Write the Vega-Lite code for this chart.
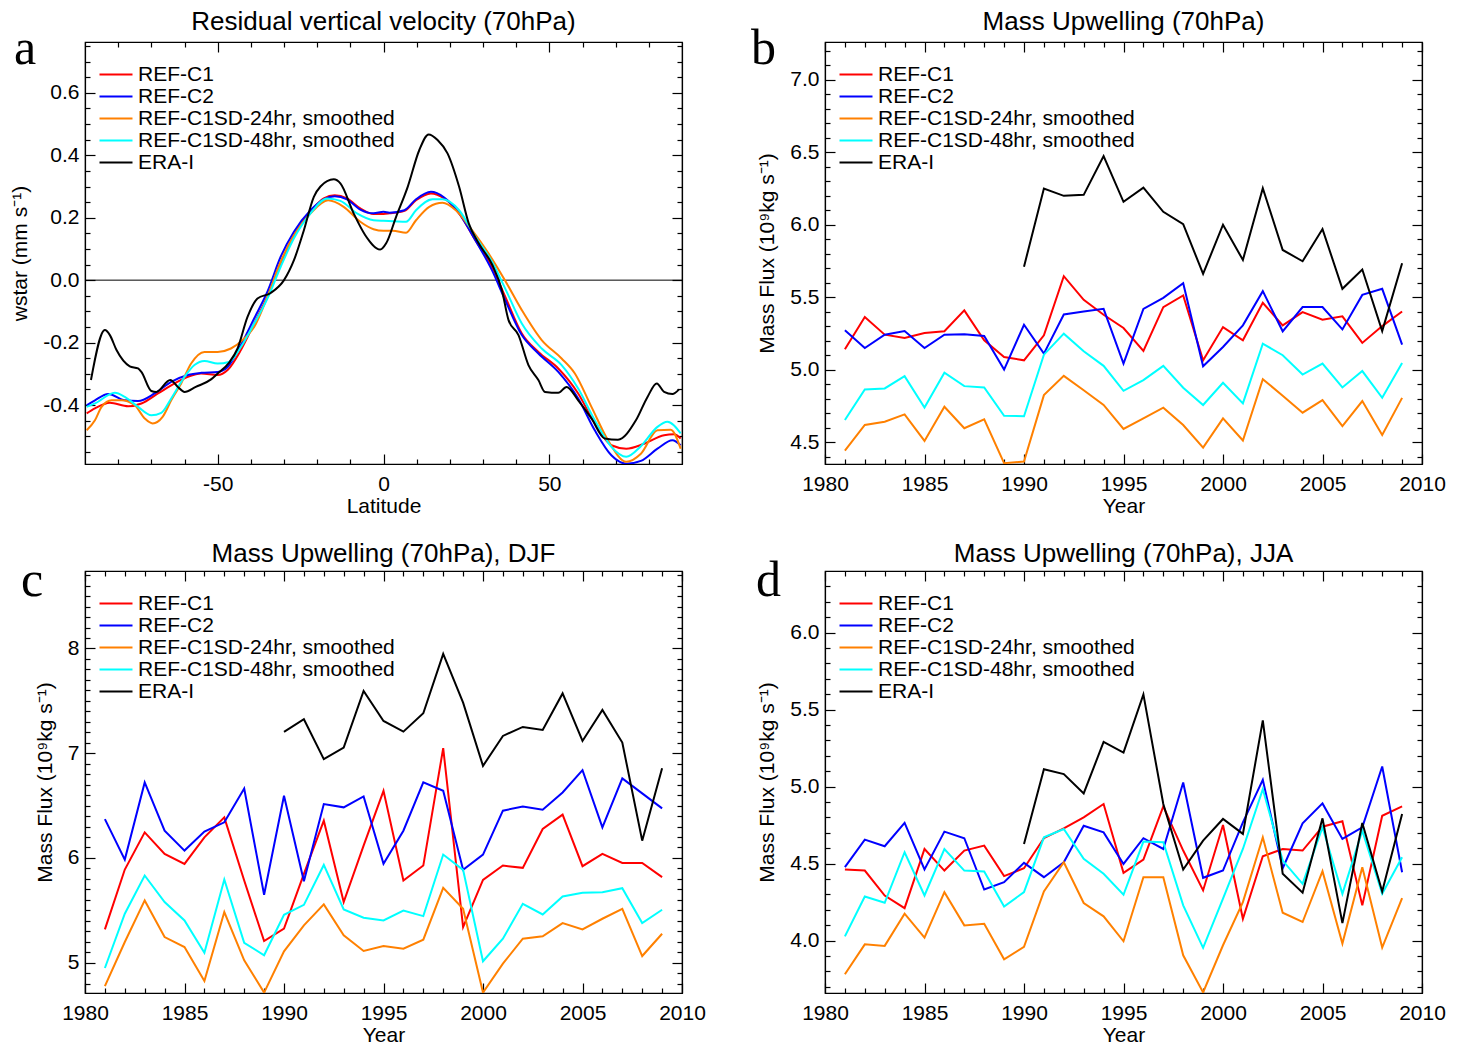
{
"$schema": "https://vega.github.io/schema/vega-lite/v6.json",
"padding": {"left": 9, "top": 8, "right": 10, "bottom": 5},
"autosize": {"type": "pad"},
"background": "#ffffff",
"datasets": {
"a": [
{"series":"REF-C1","lat":-89.5,"value":-0.427},{"series":"REF-C1","lat":-87,"value":-0.411},{"series":"REF-C1","lat":-82.5,"value":-0.393},{"series":"REF-C1","lat":-77,"value":-0.404},{"series":"REF-C1","lat":-73,"value":-0.395},{"series":"REF-C1","lat":-68,"value":-0.363},{"series":"REF-C1","lat":-63,"value":-0.331},{"series":"REF-C1","lat":-59,"value":-0.31},{"series":"REF-C1","lat":-55,"value":-0.299},{"series":"REF-C1","lat":-50,"value":-0.304},{"series":"REF-C1","lat":-47,"value":-0.288},{"series":"REF-C1","lat":-43,"value":-0.224},{"series":"REF-C1","lat":-39,"value":-0.139},{"series":"REF-C1","lat":-35,"value":-0.053},{"series":"REF-C1","lat":-31,"value":0.053},{"series":"REF-C1","lat":-27,"value":0.144},{"series":"REF-C1","lat":-22,"value":0.219},{"series":"REF-C1","lat":-18,"value":0.262},{"series":"REF-C1","lat":-14.7,"value":0.272},{"series":"REF-C1","lat":-11,"value":0.262},{"series":"REF-C1","lat":-7,"value":0.23},{"series":"REF-C1","lat":-3,"value":0.212},{"series":"REF-C1","lat":0,"value":0.212},{"series":"REF-C1","lat":1.8,"value":0.214},{"series":"REF-C1","lat":6.3,"value":0.222},{"series":"REF-C1","lat":9.8,"value":0.256},{"series":"REF-C1","lat":14.3,"value":0.278},{"series":"REF-C1","lat":18.3,"value":0.262},{"series":"REF-C1","lat":22.8,"value":0.214},{"series":"REF-C1","lat":27.7,"value":0.128},{"series":"REF-C1","lat":32.7,"value":0.043},{"series":"REF-C1","lat":36.7,"value":-0.053},{"series":"REF-C1","lat":41.7,"value":-0.171},{"series":"REF-C1","lat":46.7,"value":-0.23},{"series":"REF-C1","lat":52.7,"value":-0.283},{"series":"REF-C1","lat":58.7,"value":-0.363},{"series":"REF-C1","lat":63.7,"value":-0.459},{"series":"REF-C1","lat":68.7,"value":-0.529},{"series":"REF-C1","lat":73.2,"value":-0.54},{"series":"REF-C1","lat":78.6,"value":-0.524},{"series":"REF-C1","lat":84.6,"value":-0.497},{"series":"REF-C1","lat":87.6,"value":-0.494},{"series":"REF-C1","lat":89.6,"value":-0.507},
{"series":"REF-C2","lat":-89.5,"value":-0.401},{"series":"REF-C2","lat":-87,"value":-0.385},{"series":"REF-C2","lat":-83,"value":-0.365},{"series":"REF-C2","lat":-78,"value":-0.385},{"series":"REF-C2","lat":-74,"value":-0.387},{"series":"REF-C2","lat":-69,"value":-0.363},{"series":"REF-C2","lat":-64,"value":-0.326},{"series":"REF-C2","lat":-59,"value":-0.304},{"series":"REF-C2","lat":-55,"value":-0.297},{"series":"REF-C2","lat":-50,"value":-0.294},{"series":"REF-C2","lat":-47,"value":-0.278},{"series":"REF-C2","lat":-43,"value":-0.208},{"series":"REF-C2","lat":-39,"value":-0.123},{"series":"REF-C2","lat":-35,"value":-0.037},{"series":"REF-C2","lat":-31,"value":0.075},{"series":"REF-C2","lat":-27,"value":0.155},{"series":"REF-C2","lat":-22,"value":0.224},{"series":"REF-C2","lat":-18,"value":0.259},{"series":"REF-C2","lat":-14.7,"value":0.269},{"series":"REF-C2","lat":-11,"value":0.259},{"series":"REF-C2","lat":-7,"value":0.226},{"series":"REF-C2","lat":-3,"value":0.214},{"series":"REF-C2","lat":0,"value":0.219},{"series":"REF-C2","lat":1.8,"value":0.216},{"series":"REF-C2","lat":6.3,"value":0.224},{"series":"REF-C2","lat":9.8,"value":0.259},{"series":"REF-C2","lat":14.3,"value":0.283},{"series":"REF-C2","lat":18.3,"value":0.265},{"series":"REF-C2","lat":22.8,"value":0.214},{"series":"REF-C2","lat":27.7,"value":0.128},{"series":"REF-C2","lat":32.7,"value":0.032},{"series":"REF-C2","lat":36.7,"value":-0.064},{"series":"REF-C2","lat":41.7,"value":-0.176},{"series":"REF-C2","lat":46.7,"value":-0.235},{"series":"REF-C2","lat":52.7,"value":-0.294},{"series":"REF-C2","lat":58.7,"value":-0.379},{"series":"REF-C2","lat":63.7,"value":-0.481},{"series":"REF-C2","lat":68.7,"value":-0.561},{"series":"REF-C2","lat":73.2,"value":-0.588},{"series":"REF-C2","lat":77.6,"value":-0.579},{"series":"REF-C2","lat":82.6,"value":-0.54},{"series":"REF-C2","lat":87.1,"value":-0.513},{"series":"REF-C2","lat":89.6,"value":-0.529},
{"series":"REF-C1SD-24hr, smoothed","lat":-89.5,"value":-0.481},{"series":"REF-C1SD-24hr, smoothed","lat":-87,"value":-0.449},{"series":"REF-C1SD-24hr, smoothed","lat":-85,"value":-0.406},{"series":"REF-C1SD-24hr, smoothed","lat":-82,"value":-0.385},{"series":"REF-C1SD-24hr, smoothed","lat":-79,"value":-0.385},{"series":"REF-C1SD-24hr, smoothed","lat":-75,"value":-0.401},{"series":"REF-C1SD-24hr, smoothed","lat":-72,"value":-0.443},{"series":"REF-C1SD-24hr, smoothed","lat":-69.6,"value":-0.459},{"series":"REF-C1SD-24hr, smoothed","lat":-66.6,"value":-0.438},{"series":"REF-C1SD-24hr, smoothed","lat":-64,"value":-0.385},{"series":"REF-C1SD-24hr, smoothed","lat":-61,"value":-0.331},{"series":"REF-C1SD-24hr, smoothed","lat":-58,"value":-0.267},{"series":"REF-C1SD-24hr, smoothed","lat":-54,"value":-0.23},{"series":"REF-C1SD-24hr, smoothed","lat":-50,"value":-0.23},{"series":"REF-C1SD-24hr, smoothed","lat":-46,"value":-0.219},{"series":"REF-C1SD-24hr, smoothed","lat":-42,"value":-0.187},{"series":"REF-C1SD-24hr, smoothed","lat":-39,"value":-0.15},{"series":"REF-C1SD-24hr, smoothed","lat":-35,"value":-0.053},{"series":"REF-C1SD-24hr, smoothed","lat":-31,"value":0.059},{"series":"REF-C1SD-24hr, smoothed","lat":-27,"value":0.144},{"series":"REF-C1SD-24hr, smoothed","lat":-22,"value":0.214},{"series":"REF-C1SD-24hr, smoothed","lat":-16.7,"value":0.256},{"series":"REF-C1SD-24hr, smoothed","lat":-12,"value":0.235},{"series":"REF-C1SD-24hr, smoothed","lat":-7,"value":0.187},{"series":"REF-C1SD-24hr, smoothed","lat":-3,"value":0.163},{"series":"REF-C1SD-24hr, smoothed","lat":0,"value":0.158},{"series":"REF-C1SD-24hr, smoothed","lat":2.8,"value":0.158},{"series":"REF-C1SD-24hr, smoothed","lat":6.8,"value":0.152},{"series":"REF-C1SD-24hr, smoothed","lat":9.8,"value":0.192},{"series":"REF-C1SD-24hr, smoothed","lat":13.8,"value":0.235},{"series":"REF-C1SD-24hr, smoothed","lat":17.8,"value":0.248},{"series":"REF-C1SD-24hr, smoothed","lat":21.8,"value":0.224},{"series":"REF-C1SD-24hr, smoothed","lat":26.7,"value":0.16},{"series":"REF-C1SD-24hr, smoothed","lat":31.7,"value":0.085},{"series":"REF-C1SD-24hr, smoothed","lat":36.7,"value":-0.002},{"series":"REF-C1SD-24hr, smoothed","lat":41.7,"value":-0.096},{"series":"REF-C1SD-24hr, smoothed","lat":47.7,"value":-0.192},{"series":"REF-C1SD-24hr, smoothed","lat":53.7,"value":-0.251},{"series":"REF-C1SD-24hr, smoothed","lat":57.7,"value":-0.299},{"series":"REF-C1SD-24hr, smoothed","lat":62.7,"value":-0.406},{"series":"REF-C1SD-24hr, smoothed","lat":67.7,"value":-0.513},{"series":"REF-C1SD-24hr, smoothed","lat":73.2,"value":-0.582},{"series":"REF-C1SD-24hr, smoothed","lat":77.6,"value":-0.556},{"series":"REF-C1SD-24hr, smoothed","lat":82.6,"value":-0.481},{"series":"REF-C1SD-24hr, smoothed","lat":86.6,"value":-0.479},{"series":"REF-C1SD-24hr, smoothed","lat":89.6,"value":-0.54},
{"series":"REF-C1SD-48hr, smoothed","lat":-89.5,"value":-0.406},{"series":"REF-C1SD-48hr, smoothed","lat":-87,"value":-0.395},{"series":"REF-C1SD-48hr, smoothed","lat":-81,"value":-0.361},{"series":"REF-C1SD-48hr, smoothed","lat":-78,"value":-0.374},{"series":"REF-C1SD-48hr, smoothed","lat":-74,"value":-0.406},{"series":"REF-C1SD-48hr, smoothed","lat":-70,"value":-0.433},{"series":"REF-C1SD-48hr, smoothed","lat":-67,"value":-0.425},{"series":"REF-C1SD-48hr, smoothed","lat":-64,"value":-0.379},{"series":"REF-C1SD-48hr, smoothed","lat":-60,"value":-0.31},{"series":"REF-C1SD-48hr, smoothed","lat":-57,"value":-0.272},{"series":"REF-C1SD-48hr, smoothed","lat":-54,"value":-0.259},{"series":"REF-C1SD-48hr, smoothed","lat":-50,"value":-0.267},{"series":"REF-C1SD-48hr, smoothed","lat":-46.6,"value":-0.262},{"series":"REF-C1SD-48hr, smoothed","lat":-43,"value":-0.214},{"series":"REF-C1SD-48hr, smoothed","lat":-39,"value":-0.139},{"series":"REF-C1SD-48hr, smoothed","lat":-35,"value":-0.059},{"series":"REF-C1SD-48hr, smoothed","lat":-31,"value":0.043},{"series":"REF-C1SD-48hr, smoothed","lat":-27,"value":0.134},{"series":"REF-C1SD-48hr, smoothed","lat":-22,"value":0.214},{"series":"REF-C1SD-48hr, smoothed","lat":-17,"value":0.262},{"series":"REF-C1SD-48hr, smoothed","lat":-13,"value":0.254},{"series":"REF-C1SD-48hr, smoothed","lat":-8,"value":0.214},{"series":"REF-C1SD-48hr, smoothed","lat":-3,"value":0.192},{"series":"REF-C1SD-48hr, smoothed","lat":0,"value":0.19},{"series":"REF-C1SD-48hr, smoothed","lat":2.8,"value":0.189},{"series":"REF-C1SD-48hr, smoothed","lat":6.8,"value":0.187},{"series":"REF-C1SD-48hr, smoothed","lat":9.8,"value":0.224},{"series":"REF-C1SD-48hr, smoothed","lat":14.8,"value":0.259},{"series":"REF-C1SD-48hr, smoothed","lat":17.8,"value":0.259},{"series":"REF-C1SD-48hr, smoothed","lat":22.8,"value":0.224},{"series":"REF-C1SD-48hr, smoothed","lat":27.7,"value":0.139},{"series":"REF-C1SD-48hr, smoothed","lat":32.7,"value":0.059},{"series":"REF-C1SD-48hr, smoothed","lat":36.7,"value":-0.027},{"series":"REF-C1SD-48hr, smoothed","lat":41.7,"value":-0.139},{"series":"REF-C1SD-48hr, smoothed","lat":47.7,"value":-0.219},{"series":"REF-C1SD-48hr, smoothed","lat":53.7,"value":-0.272},{"series":"REF-C1SD-48hr, smoothed","lat":58.7,"value":-0.347},{"series":"REF-C1SD-48hr, smoothed","lat":63.7,"value":-0.449},{"series":"REF-C1SD-48hr, smoothed","lat":68.7,"value":-0.534},{"series":"REF-C1SD-48hr, smoothed","lat":73.2,"value":-0.566},{"series":"REF-C1SD-48hr, smoothed","lat":77.6,"value":-0.532},{"series":"REF-C1SD-48hr, smoothed","lat":82.6,"value":-0.47},{"series":"REF-C1SD-48hr, smoothed","lat":85.6,"value":-0.454},{"series":"REF-C1SD-48hr, smoothed","lat":89.6,"value":-0.491},
{"series":"ERA-I","lat":-88.2,"value":-0.32},{"series":"ERA-I","lat":-84,"value":-0.16},{"series":"ERA-I","lat":-82.5,"value":-0.176},{"series":"ERA-I","lat":-80.5,"value":-0.224},{"series":"ERA-I","lat":-76.5,"value":-0.276},{"series":"ERA-I","lat":-74,"value":-0.283},{"series":"ERA-I","lat":-73,"value":-0.294},{"series":"ERA-I","lat":-70,"value":-0.355},{"series":"ERA-I","lat":-68.5,"value":-0.358},{"series":"ERA-I","lat":-64.3,"value":-0.32},{"series":"ERA-I","lat":-62,"value":-0.342},{"series":"ERA-I","lat":-60,"value":-0.358},{"series":"ERA-I","lat":-56.6,"value":-0.342},{"series":"ERA-I","lat":-52,"value":-0.318},{"series":"ERA-I","lat":-50,"value":-0.299},{"series":"ERA-I","lat":-46.6,"value":-0.265},{"series":"ERA-I","lat":-44,"value":-0.219},{"series":"ERA-I","lat":-41,"value":-0.118},{"series":"ERA-I","lat":-38,"value":-0.059},{"series":"ERA-I","lat":-34,"value":-0.041},{"series":"ERA-I","lat":-30,"value":0.0},{"series":"ERA-I","lat":-27,"value":0.064},{"series":"ERA-I","lat":-24,"value":0.16},{"series":"ERA-I","lat":-21,"value":0.267},{"series":"ERA-I","lat":-19,"value":0.3},{"series":"ERA-I","lat":-15,"value":0.323},{"series":"ERA-I","lat":-13,"value":0.31},{"series":"ERA-I","lat":-9,"value":0.214},{"series":"ERA-I","lat":-5.5,"value":0.144},{"series":"ERA-I","lat":-1,"value":0.098},{"series":"ERA-I","lat":0.8,"value":0.118},{"series":"ERA-I","lat":3.8,"value":0.203},{"series":"ERA-I","lat":7.3,"value":0.299},{"series":"ERA-I","lat":10.8,"value":0.417},{"series":"ERA-I","lat":13.6,"value":0.467},{"series":"ERA-I","lat":16.3,"value":0.449},{"series":"ERA-I","lat":19.3,"value":0.406},{"series":"ERA-I","lat":22.8,"value":0.299},{"series":"ERA-I","lat":25.7,"value":0.182},{"series":"ERA-I","lat":28.7,"value":0.118},{"series":"ERA-I","lat":32.7,"value":0.051},{"series":"ERA-I","lat":35.7,"value":-0.032},{"series":"ERA-I","lat":37.7,"value":-0.128},{"series":"ERA-I","lat":40.7,"value":-0.176},{"series":"ERA-I","lat":43.7,"value":-0.272},{"series":"ERA-I","lat":46.7,"value":-0.32},{"series":"ERA-I","lat":48.7,"value":-0.358},{"series":"ERA-I","lat":52.7,"value":-0.361},{"series":"ERA-I","lat":55.2,"value":-0.342},{"series":"ERA-I","lat":58.7,"value":-0.385},{"series":"ERA-I","lat":62.7,"value":-0.443},{"series":"ERA-I","lat":66.7,"value":-0.507},{"series":"ERA-I","lat":70.7,"value":-0.511},{"series":"ERA-I","lat":76.1,"value":-0.449},{"series":"ERA-I","lat":79.6,"value":-0.374},{"series":"ERA-I","lat":82.4,"value":-0.331},{"series":"ERA-I","lat":84.6,"value":-0.358},{"series":"ERA-I","lat":87.1,"value":-0.365},{"series":"ERA-I","lat":89.1,"value":-0.35}
],
"b": [
{"series":"REF-C1","year":1981,"value":5.141},{"series":"REF-C1","year":1982,"value":5.363},{"series":"REF-C1","year":1983,"value":5.242},{"series":"REF-C1","year":1984,"value":5.219},{"series":"REF-C1","year":1985,"value":5.253},{"series":"REF-C1","year":1986,"value":5.265},{"series":"REF-C1","year":1987,"value":5.409},{"series":"REF-C1","year":1988,"value":5.203},{"series":"REF-C1","year":1989,"value":5.088},{"series":"REF-C1","year":1990,"value":5.065},{"series":"REF-C1","year":1991,"value":5.237},{"series":"REF-C1","year":1992,"value":5.645},{"series":"REF-C1","year":1993,"value":5.482},{"series":"REF-C1","year":1994,"value":5.379},{"series":"REF-C1","year":1995,"value":5.288},{"series":"REF-C1","year":1996,"value":5.13},{"series":"REF-C1","year":1997,"value":5.432},{"series":"REF-C1","year":1998,"value":5.512},{"series":"REF-C1","year":1999,"value":5.065},{"series":"REF-C1","year":2000,"value":5.294},{"series":"REF-C1","year":2001,"value":5.203},{"series":"REF-C1","year":2002,"value":5.462},{"series":"REF-C1","year":2003,"value":5.306},{"series":"REF-C1","year":2004,"value":5.397},{"series":"REF-C1","year":2005,"value":5.345},{"series":"REF-C1","year":2006,"value":5.368},{"series":"REF-C1","year":2007,"value":5.185},{"series":"REF-C1","year":2008,"value":5.301},{"series":"REF-C1","year":2009,"value":5.402},
{"series":"REF-C2","year":1981,"value":5.272},{"series":"REF-C2","year":1982,"value":5.15},{"series":"REF-C2","year":1983,"value":5.242},{"series":"REF-C2","year":1984,"value":5.267},{"series":"REF-C2","year":1985,"value":5.15},{"series":"REF-C2","year":1986,"value":5.242},{"series":"REF-C2","year":1987,"value":5.244},{"series":"REF-C2","year":1988,"value":5.233},{"series":"REF-C2","year":1989,"value":5.001},{"series":"REF-C2","year":1990,"value":5.31},{"series":"REF-C2","year":1991,"value":5.111},{"series":"REF-C2","year":1992,"value":5.381},{"series":"REF-C2","year":1993,"value":5.402},{"series":"REF-C2","year":1994,"value":5.42},{"series":"REF-C2","year":1995,"value":5.043},{"series":"REF-C2","year":1996,"value":5.42},{"series":"REF-C2","year":1997,"value":5.496},{"series":"REF-C2","year":1998,"value":5.597},{"series":"REF-C2","year":1999,"value":5.024},{"series":"REF-C2","year":2000,"value":5.157},{"series":"REF-C2","year":2001,"value":5.306},{"series":"REF-C2","year":2002,"value":5.542},{"series":"REF-C2","year":2003,"value":5.265},{"series":"REF-C2","year":2004,"value":5.432},{"series":"REF-C2","year":2005,"value":5.432},{"series":"REF-C2","year":2006,"value":5.278},{"series":"REF-C2","year":2007,"value":5.516},{"series":"REF-C2","year":2008,"value":5.558},{"series":"REF-C2","year":2009,"value":5.173},
{"series":"REF-C1SD-24hr, smoothed","year":1981,"value":4.443},{"series":"REF-C1SD-24hr, smoothed","year":1982,"value":4.619},{"series":"REF-C1SD-24hr, smoothed","year":1983,"value":4.642},{"series":"REF-C1SD-24hr, smoothed","year":1984,"value":4.692},{"series":"REF-C1SD-24hr, smoothed","year":1985,"value":4.509},{"series":"REF-C1SD-24hr, smoothed","year":1986,"value":4.745},{"series":"REF-C1SD-24hr, smoothed","year":1987,"value":4.597},{"series":"REF-C1SD-24hr, smoothed","year":1988,"value":4.658},{"series":"REF-C1SD-24hr, smoothed","year":1989,"value":4.356},{"series":"REF-C1SD-24hr, smoothed","year":1990,"value":4.367},{"series":"REF-C1SD-24hr, smoothed","year":1991,"value":4.825},{"series":"REF-C1SD-24hr, smoothed","year":1992,"value":4.958},{"series":"REF-C1SD-24hr, smoothed","year":1993,"value":4.859},{"series":"REF-C1SD-24hr, smoothed","year":1994,"value":4.757},{"series":"REF-C1SD-24hr, smoothed","year":1995,"value":4.592},{"series":"REF-C1SD-24hr, smoothed","year":1996,"value":4.665},{"series":"REF-C1SD-24hr, smoothed","year":1997,"value":4.738},{"series":"REF-C1SD-24hr, smoothed","year":1998,"value":4.619},{"series":"REF-C1SD-24hr, smoothed","year":1999,"value":4.463},{"series":"REF-C1SD-24hr, smoothed","year":2000,"value":4.665},{"series":"REF-C1SD-24hr, smoothed","year":2001,"value":4.512},{"series":"REF-C1SD-24hr, smoothed","year":2002,"value":4.935},{"series":"REF-C1SD-24hr, smoothed","year":2003,"value":4.821},{"series":"REF-C1SD-24hr, smoothed","year":2004,"value":4.704},{"series":"REF-C1SD-24hr, smoothed","year":2005,"value":4.79},{"series":"REF-C1SD-24hr, smoothed","year":2006,"value":4.612},{"series":"REF-C1SD-24hr, smoothed","year":2007,"value":4.784},{"series":"REF-C1SD-24hr, smoothed","year":2008,"value":4.55},{"series":"REF-C1SD-24hr, smoothed","year":2009,"value":4.806},
{"series":"REF-C1SD-48hr, smoothed","year":1981,"value":4.653},{"series":"REF-C1SD-48hr, smoothed","year":1982,"value":4.864},{"series":"REF-C1SD-48hr, smoothed","year":1983,"value":4.871},{"series":"REF-C1SD-48hr, smoothed","year":1984,"value":4.956},{"series":"REF-C1SD-48hr, smoothed","year":1985,"value":4.74},{"series":"REF-C1SD-48hr, smoothed","year":1986,"value":4.979},{"series":"REF-C1SD-48hr, smoothed","year":1987,"value":4.887},{"series":"REF-C1SD-48hr, smoothed","year":1988,"value":4.878},{"series":"REF-C1SD-48hr, smoothed","year":1989,"value":4.683},{"series":"REF-C1SD-48hr, smoothed","year":1990,"value":4.679},{"series":"REF-C1SD-48hr, smoothed","year":1991,"value":5.104},{"series":"REF-C1SD-48hr, smoothed","year":1992,"value":5.249},{"series":"REF-C1SD-48hr, smoothed","year":1993,"value":5.127},{"series":"REF-C1SD-48hr, smoothed","year":1994,"value":5.027},{"series":"REF-C1SD-48hr, smoothed","year":1995,"value":4.855},{"series":"REF-C1SD-48hr, smoothed","year":1996,"value":4.928},{"series":"REF-C1SD-48hr, smoothed","year":1997,"value":5.027},{"series":"REF-C1SD-48hr, smoothed","year":1998,"value":4.876},{"series":"REF-C1SD-48hr, smoothed","year":1999,"value":4.757},{"series":"REF-C1SD-48hr, smoothed","year":2000,"value":4.91},{"series":"REF-C1SD-48hr, smoothed","year":2001,"value":4.768},{"series":"REF-C1SD-48hr, smoothed","year":2002,"value":5.18},{"series":"REF-C1SD-48hr, smoothed","year":2003,"value":5.1},{"series":"REF-C1SD-48hr, smoothed","year":2004,"value":4.967},{"series":"REF-C1SD-48hr, smoothed","year":2005,"value":5.043},{"series":"REF-C1SD-48hr, smoothed","year":2006,"value":4.878},{"series":"REF-C1SD-48hr, smoothed","year":2007,"value":4.991},{"series":"REF-C1SD-48hr, smoothed","year":2008,"value":4.807},{"series":"REF-C1SD-48hr, smoothed","year":2009,"value":5.047},
{"series":"ERA-I","year":1990,"value":5.711},{"series":"ERA-I","year":1991,"value":6.249},{"series":"ERA-I","year":1992,"value":6.199},{"series":"ERA-I","year":1993,"value":6.206},{"series":"ERA-I","year":1994,"value":6.473},{"series":"ERA-I","year":1995,"value":6.158},{"series":"ERA-I","year":1996,"value":6.256},{"series":"ERA-I","year":1997,"value":6.089},{"series":"ERA-I","year":1998,"value":6.004},{"series":"ERA-I","year":1999,"value":5.661},{"series":"ERA-I","year":2000,"value":6.0},{"series":"ERA-I","year":2001,"value":5.757},{"series":"ERA-I","year":2002,"value":6.252},{"series":"ERA-I","year":2003,"value":5.826},{"series":"ERA-I","year":2004,"value":5.748},{"series":"ERA-I","year":2005,"value":5.97},{"series":"ERA-I","year":2006,"value":5.558},{"series":"ERA-I","year":2007,"value":5.691},{"series":"ERA-I","year":2008,"value":5.267},{"series":"ERA-I","year":2009,"value":5.734}
],
"c": [
{"series":"REF-C1","year":1981,"value":5.317},{"series":"REF-C1","year":1982,"value":5.889},{"series":"REF-C1","year":1983,"value":6.244},{"series":"REF-C1","year":1984,"value":6.038},{"series":"REF-C1","year":1985,"value":5.943},{"series":"REF-C1","year":1986,"value":6.197},{"series":"REF-C1","year":1987,"value":6.387},{"series":"REF-C1","year":1988,"value":5.784},{"series":"REF-C1","year":1989,"value":5.206},{"series":"REF-C1","year":1990,"value":5.324},{"series":"REF-C1","year":1991,"value":5.848},{"series":"REF-C1","year":1992,"value":6.356},{"series":"REF-C1","year":1993,"value":5.578},{"series":"REF-C1","year":1994,"value":6.117},{"series":"REF-C1","year":1995,"value":6.641},{"series":"REF-C1","year":1996,"value":5.784},{"series":"REF-C1","year":1997,"value":5.927},{"series":"REF-C1","year":1998,"value":7.048},{"series":"REF-C1","year":1999,"value":5.34},{"series":"REF-C1","year":2000,"value":5.79},{"series":"REF-C1","year":2001,"value":5.927},{"series":"REF-C1","year":2002,"value":5.905},{"series":"REF-C1","year":2003,"value":6.276},{"series":"REF-C1","year":2004,"value":6.413},{"series":"REF-C1","year":2005,"value":5.921},{"series":"REF-C1","year":2006,"value":6.038},{"series":"REF-C1","year":2007,"value":5.952},{"series":"REF-C1","year":2008,"value":5.952},{"series":"REF-C1","year":2009,"value":5.816},
{"series":"REF-C2","year":1981,"value":6.371},{"series":"REF-C2","year":1982,"value":5.984},{"series":"REF-C2","year":1983,"value":6.721},{"series":"REF-C2","year":1984,"value":6.26},{"series":"REF-C2","year":1985,"value":6.07},{"series":"REF-C2","year":1986,"value":6.251},{"series":"REF-C2","year":1987,"value":6.34},{"series":"REF-C2","year":1988,"value":6.663},{"series":"REF-C2","year":1989,"value":5.648},{"series":"REF-C2","year":1990,"value":6.594},{"series":"REF-C2","year":1991,"value":5.778},{"series":"REF-C2","year":1992,"value":6.514},{"series":"REF-C2","year":1993,"value":6.483},{"series":"REF-C2","year":1994,"value":6.587},{"series":"REF-C2","year":1995,"value":5.943},{"series":"REF-C2","year":1996,"value":6.26},{"series":"REF-C2","year":1997,"value":6.721},{"series":"REF-C2","year":1998,"value":6.641},{"series":"REF-C2","year":1999,"value":5.886},{"series":"REF-C2","year":2000,"value":6.032},{"series":"REF-C2","year":2001,"value":6.451},{"series":"REF-C2","year":2002,"value":6.492},{"series":"REF-C2","year":2003,"value":6.46},{"series":"REF-C2","year":2004,"value":6.625},{"series":"REF-C2","year":2005,"value":6.838},{"series":"REF-C2","year":2006,"value":6.292},{"series":"REF-C2","year":2007,"value":6.759},{"series":"REF-C2","year":2008,"value":6.616},{"series":"REF-C2","year":2009,"value":6.473},
{"series":"REF-C1SD-24hr, smoothed","year":1981,"value":4.775},{"series":"REF-C1SD-24hr, smoothed","year":1982,"value":5.197},{"series":"REF-C1SD-24hr, smoothed","year":1983,"value":5.594},{"series":"REF-C1SD-24hr, smoothed","year":1984,"value":5.244},{"series":"REF-C1SD-24hr, smoothed","year":1985,"value":5.149},{"series":"REF-C1SD-24hr, smoothed","year":1986,"value":4.825},{"series":"REF-C1SD-24hr, smoothed","year":1987,"value":5.483},{"series":"REF-C1SD-24hr, smoothed","year":1988,"value":5.022},{"series":"REF-C1SD-24hr, smoothed","year":1989,"value":4.714},{"series":"REF-C1SD-24hr, smoothed","year":1990,"value":5.108},{"series":"REF-C1SD-24hr, smoothed","year":1991,"value":5.356},{"series":"REF-C1SD-24hr, smoothed","year":1992,"value":5.556},{"series":"REF-C1SD-24hr, smoothed","year":1993,"value":5.26},{"series":"REF-C1SD-24hr, smoothed","year":1994,"value":5.111},{"series":"REF-C1SD-24hr, smoothed","year":1995,"value":5.159},{"series":"REF-C1SD-24hr, smoothed","year":1996,"value":5.133},{"series":"REF-C1SD-24hr, smoothed","year":1997,"value":5.219},{"series":"REF-C1SD-24hr, smoothed","year":1998,"value":5.714},{"series":"REF-C1SD-24hr, smoothed","year":1999,"value":5.514},{"series":"REF-C1SD-24hr, smoothed","year":2000,"value":4.714},{"series":"REF-C1SD-24hr, smoothed","year":2001,"value":4.99},{"series":"REF-C1SD-24hr, smoothed","year":2002,"value":5.229},{"series":"REF-C1SD-24hr, smoothed","year":2003,"value":5.251},{"series":"REF-C1SD-24hr, smoothed","year":2004,"value":5.378},{"series":"REF-C1SD-24hr, smoothed","year":2005,"value":5.317},{"series":"REF-C1SD-24hr, smoothed","year":2006,"value":5.419},{"series":"REF-C1SD-24hr, smoothed","year":2007,"value":5.514},{"series":"REF-C1SD-24hr, smoothed","year":2008,"value":5.063},{"series":"REF-C1SD-24hr, smoothed","year":2009,"value":5.276},
{"series":"REF-C1SD-48hr, smoothed","year":1981,"value":4.949},{"series":"REF-C1SD-48hr, smoothed","year":1982,"value":5.467},{"series":"REF-C1SD-48hr, smoothed","year":1983,"value":5.832},{"series":"REF-C1SD-48hr, smoothed","year":1984,"value":5.578},{"series":"REF-C1SD-48hr, smoothed","year":1985,"value":5.403},{"series":"REF-C1SD-48hr, smoothed","year":1986,"value":5.095},{"series":"REF-C1SD-48hr, smoothed","year":1987,"value":5.794},{"series":"REF-C1SD-48hr, smoothed","year":1988,"value":5.19},{"series":"REF-C1SD-48hr, smoothed","year":1989,"value":5.07},{"series":"REF-C1SD-48hr, smoothed","year":1990,"value":5.457},{"series":"REF-C1SD-48hr, smoothed","year":1991,"value":5.552},{"series":"REF-C1SD-48hr, smoothed","year":1992,"value":5.933},{"series":"REF-C1SD-48hr, smoothed","year":1993,"value":5.508},{"series":"REF-C1SD-48hr, smoothed","year":1994,"value":5.429},{"series":"REF-C1SD-48hr, smoothed","year":1995,"value":5.403},{"series":"REF-C1SD-48hr, smoothed","year":1996,"value":5.498},{"series":"REF-C1SD-48hr, smoothed","year":1997,"value":5.444},{"series":"REF-C1SD-48hr, smoothed","year":1998,"value":6.032},{"series":"REF-C1SD-48hr, smoothed","year":1999,"value":5.886},{"series":"REF-C1SD-48hr, smoothed","year":2000,"value":5.013},{"series":"REF-C1SD-48hr, smoothed","year":2001,"value":5.229},{"series":"REF-C1SD-48hr, smoothed","year":2002,"value":5.562},{"series":"REF-C1SD-48hr, smoothed","year":2003,"value":5.46},{"series":"REF-C1SD-48hr, smoothed","year":2004,"value":5.632},{"series":"REF-C1SD-48hr, smoothed","year":2005,"value":5.667},{"series":"REF-C1SD-48hr, smoothed","year":2006,"value":5.673},{"series":"REF-C1SD-48hr, smoothed","year":2007,"value":5.711},{"series":"REF-C1SD-48hr, smoothed","year":2008,"value":5.378},{"series":"REF-C1SD-48hr, smoothed","year":2009,"value":5.505},
{"series":"ERA-I","year":1990,"value":7.203},{"series":"ERA-I","year":1991,"value":7.324},{"series":"ERA-I","year":1992,"value":6.943},{"series":"ERA-I","year":1993,"value":7.054},{"series":"ERA-I","year":1994,"value":7.594},{"series":"ERA-I","year":1995,"value":7.308},{"series":"ERA-I","year":1996,"value":7.206},{"series":"ERA-I","year":1997,"value":7.381},{"series":"ERA-I","year":1998,"value":7.949},{"series":"ERA-I","year":1999,"value":7.483},{"series":"ERA-I","year":2000,"value":6.879},{"series":"ERA-I","year":2001,"value":7.165},{"series":"ERA-I","year":2002,"value":7.251},{"series":"ERA-I","year":2003,"value":7.222},{"series":"ERA-I","year":2004,"value":7.571},{"series":"ERA-I","year":2005,"value":7.117},{"series":"ERA-I","year":2006,"value":7.413},{"series":"ERA-I","year":2007,"value":7.102},{"series":"ERA-I","year":2008,"value":6.165},{"series":"ERA-I","year":2009,"value":6.857}
],
"d": [
{"series":"REF-C1","year":1981,"value":4.462},{"series":"REF-C1","year":1982,"value":4.455},{"series":"REF-C1","year":1983,"value":4.293},{"series":"REF-C1","year":1984,"value":4.211},{"series":"REF-C1","year":1985,"value":4.595},{"series":"REF-C1","year":1986,"value":4.455},{"series":"REF-C1","year":1987,"value":4.585},{"series":"REF-C1","year":1988,"value":4.617},{"series":"REF-C1","year":1989,"value":4.419},{"series":"REF-C1","year":1990,"value":4.47},{"series":"REF-C1","year":1991,"value":4.665},{"series":"REF-C1","year":1992,"value":4.729},{"series":"REF-C1","year":1993,"value":4.8},{"series":"REF-C1","year":1994,"value":4.887},{"series":"REF-C1","year":1995,"value":4.44},{"series":"REF-C1","year":1996,"value":4.526},{"series":"REF-C1","year":1997,"value":4.872},{"series":"REF-C1","year":1998,"value":4.585},{"series":"REF-C1","year":1999,"value":4.326},{"series":"REF-C1","year":2000,"value":4.751},{"series":"REF-C1","year":2001,"value":4.142},{"series":"REF-C1","year":2002,"value":4.548},{"series":"REF-C1","year":2003,"value":4.595},{"series":"REF-C1","year":2004,"value":4.585},{"series":"REF-C1","year":2005,"value":4.74},{"series":"REF-C1","year":2006,"value":4.775},{"series":"REF-C1","year":2007,"value":4.229},{"series":"REF-C1","year":2008,"value":4.811},{"series":"REF-C1","year":2009,"value":4.872},
{"series":"REF-C2","year":1981,"value":4.477},{"series":"REF-C2","year":1982,"value":4.656},{"series":"REF-C2","year":1983,"value":4.613},{"series":"REF-C2","year":1984,"value":4.764},{"series":"REF-C2","year":1985,"value":4.462},{"series":"REF-C2","year":1986,"value":4.708},{"series":"REF-C2","year":1987,"value":4.665},{"series":"REF-C2","year":1988,"value":4.332},{"series":"REF-C2","year":1989,"value":4.38},{"series":"REF-C2","year":1990,"value":4.505},{"series":"REF-C2","year":1991,"value":4.412},{"series":"REF-C2","year":1992,"value":4.509},{"series":"REF-C2","year":1993,"value":4.746},{"series":"REF-C2","year":1994,"value":4.703},{"series":"REF-C2","year":1995,"value":4.498},{"series":"REF-C2","year":1996,"value":4.665},{"series":"REF-C2","year":1997,"value":4.595},{"series":"REF-C2","year":1998,"value":5.027},{"series":"REF-C2","year":1999,"value":4.408},{"series":"REF-C2","year":2000,"value":4.455},{"series":"REF-C2","year":2001,"value":4.768},{"series":"REF-C2","year":2002,"value":5.044},{"series":"REF-C2","year":2003,"value":4.47},{"series":"REF-C2","year":2004,"value":4.762},{"series":"REF-C2","year":2005,"value":4.891},{"series":"REF-C2","year":2006,"value":4.66},{"series":"REF-C2","year":2007,"value":4.736},{"series":"REF-C2","year":2008,"value":5.131},{"series":"REF-C2","year":2009,"value":4.444},
{"series":"REF-C1SD-24hr, smoothed","year":1981,"value":3.782},{"series":"REF-C1SD-24hr, smoothed","year":1982,"value":3.976},{"series":"REF-C1SD-24hr, smoothed","year":1983,"value":3.966},{"series":"REF-C1SD-24hr, smoothed","year":1984,"value":4.175},{"series":"REF-C1SD-24hr, smoothed","year":1985,"value":4.019},{"series":"REF-C1SD-24hr, smoothed","year":1986,"value":4.315},{"series":"REF-C1SD-24hr, smoothed","year":1987,"value":4.099},{"series":"REF-C1SD-24hr, smoothed","year":1988,"value":4.11},{"series":"REF-C1SD-24hr, smoothed","year":1989,"value":3.879},{"series":"REF-C1SD-24hr, smoothed","year":1990,"value":3.959},{"series":"REF-C1SD-24hr, smoothed","year":1991,"value":4.319},{"series":"REF-C1SD-24hr, smoothed","year":1992,"value":4.509},{"series":"REF-C1SD-24hr, smoothed","year":1993,"value":4.244},{"series":"REF-C1SD-24hr, smoothed","year":1994,"value":4.158},{"series":"REF-C1SD-24hr, smoothed","year":1995,"value":3.996},{"series":"REF-C1SD-24hr, smoothed","year":1996,"value":4.412},{"series":"REF-C1SD-24hr, smoothed","year":1997,"value":4.412},{"series":"REF-C1SD-24hr, smoothed","year":1998,"value":3.905},{"series":"REF-C1SD-24hr, smoothed","year":1999,"value":3.664},{"series":"REF-C1SD-24hr, smoothed","year":2000,"value":3.97},{"series":"REF-C1SD-24hr, smoothed","year":2001,"value":4.25},{"series":"REF-C1SD-24hr, smoothed","year":2002,"value":4.671},{"series":"REF-C1SD-24hr, smoothed","year":2003,"value":4.181},{"series":"REF-C1SD-24hr, smoothed","year":2004,"value":4.121},{"series":"REF-C1SD-24hr, smoothed","year":2005,"value":4.451},{"series":"REF-C1SD-24hr, smoothed","year":2006,"value":3.981},{"series":"REF-C1SD-24hr, smoothed","year":2007,"value":4.477},{"series":"REF-C1SD-24hr, smoothed","year":2008,"value":3.955},{"series":"REF-C1SD-24hr, smoothed","year":2009,"value":4.276},
{"series":"REF-C1SD-48hr, smoothed","year":1981,"value":4.028},{"series":"REF-C1SD-48hr, smoothed","year":1982,"value":4.287},{"series":"REF-C1SD-48hr, smoothed","year":1983,"value":4.246},{"series":"REF-C1SD-48hr, smoothed","year":1984,"value":4.574},{"series":"REF-C1SD-48hr, smoothed","year":1985,"value":4.293},{"series":"REF-C1SD-48hr, smoothed","year":1986,"value":4.595},{"series":"REF-C1SD-48hr, smoothed","year":1987,"value":4.455},{"series":"REF-C1SD-48hr, smoothed","year":1988,"value":4.449},{"series":"REF-C1SD-48hr, smoothed","year":1989,"value":4.222},{"series":"REF-C1SD-48hr, smoothed","year":1990,"value":4.315},{"series":"REF-C1SD-48hr, smoothed","year":1991,"value":4.671},{"series":"REF-C1SD-48hr, smoothed","year":1992,"value":4.725},{"series":"REF-C1SD-48hr, smoothed","year":1993,"value":4.531},{"series":"REF-C1SD-48hr, smoothed","year":1994,"value":4.434},{"series":"REF-C1SD-48hr, smoothed","year":1995,"value":4.298},{"series":"REF-C1SD-48hr, smoothed","year":1996,"value":4.643},{"series":"REF-C1SD-48hr, smoothed","year":1997,"value":4.639},{"series":"REF-C1SD-48hr, smoothed","year":1998,"value":4.229},{"series":"REF-C1SD-48hr, smoothed","year":1999,"value":3.953},{"series":"REF-C1SD-48hr, smoothed","year":2000,"value":4.272},{"series":"REF-C1SD-48hr, smoothed","year":2001,"value":4.595},{"series":"REF-C1SD-48hr, smoothed","year":2002,"value":4.984},{"series":"REF-C1SD-48hr, smoothed","year":2003,"value":4.52},{"series":"REF-C1SD-48hr, smoothed","year":2004,"value":4.369},{"series":"REF-C1SD-48hr, smoothed","year":2005,"value":4.736},{"series":"REF-C1SD-48hr, smoothed","year":2006,"value":4.304},{"series":"REF-C1SD-48hr, smoothed","year":2007,"value":4.714},{"series":"REF-C1SD-48hr, smoothed","year":2008,"value":4.304},{"series":"REF-C1SD-48hr, smoothed","year":2009,"value":4.542},
{"series":"ERA-I","year":1990,"value":4.628},{"series":"ERA-I","year":1991,"value":5.113},{"series":"ERA-I","year":1992,"value":5.081},{"series":"ERA-I","year":1993,"value":4.956},{"series":"ERA-I","year":1994,"value":5.29},{"series":"ERA-I","year":1995,"value":5.221},{"series":"ERA-I","year":1996,"value":5.599},{"series":"ERA-I","year":1997,"value":4.887},{"series":"ERA-I","year":1998,"value":4.462},{"series":"ERA-I","year":1999,"value":4.649},{"series":"ERA-I","year":2000,"value":4.79},{"series":"ERA-I","year":2001,"value":4.693},{"series":"ERA-I","year":2002,"value":5.43},{"series":"ERA-I","year":2003,"value":4.434},{"series":"ERA-I","year":2004,"value":4.311},{"series":"ERA-I","year":2005,"value":4.794},{"series":"ERA-I","year":2006,"value":4.114},{"series":"ERA-I","year":2007,"value":4.764},{"series":"ERA-I","year":2008,"value":4.319},{"series":"ERA-I","year":2009,"value":4.822}
]
},
"columns": 2,
"spacing": {"row": 107, "column": 143},
"bounds": "flush",
"resolve": {"scale": {"color": "independent"}, "legend": {"color": "independent"}},
"concat": [
{
"width": 597, "height": 422,
"title": {"text": "Residual vertical velocity (70hPa)"},
"resolve": {"axis": {"x": "independent", "y": "independent"}},
"layer": [
{"data": {"values": [{"value": 0}]},
 "mark": {"type": "rule", "color": "#000000", "strokeWidth": 1},
 "encoding": {"y": {"field": "value", "type": "quantitative", "axis": null, "scale": {"domain": [-0.589, 0.763], "nice": false, "zero": false}}}},
{"data": {"name": "a"},
 "mark": {"type": "line", "strokeWidth": 2, "interpolate": "monotone", "clip": true},
 "encoding": {
  "x": {"field": "lat", "type": "quantitative", "scale": {"domain": [-90, 90], "nice": false, "zero": false},
        "axis": {"orient": "bottom", "title": "Latitude", "titlePadding": -4, "values": [-80,-70,-60,-50,-40,-30,-20,-10,0,10,20,30,40,50,60,70,80],
                 "tickSize": {"condition": {"test": "datum.value % 50 == 0", "value": -10}, "value": -5},
                 "labelPadding": 19,
                 "labelExpr": "datum.value % 50 == 0 ? (datum.value < 0 ? '-' : '') + format(abs(datum.value), 'd') : ''"}},
  "y": {"field": "value", "type": "quantitative", "scale": {"domain": [-0.589, 0.763], "nice": false, "zero": false},
        "axis": {"orient": "left", "title": "wstar (mm s⁻¹)", "titlePadding": 12, "values": [-0.55,-0.5,-0.45,-0.4,-0.35,-0.3,-0.25,-0.2,-0.15,-0.1,-0.05,0,0.05,0.1,0.15,0.2,0.25,0.3,0.35,0.4,0.45,0.5,0.55,0.6,0.65,0.7,0.75],
                 "tickSize": {"condition": {"test": "abs(datum.value * 5 - round(datum.value * 5)) < 0.001", "value": -10}, "value": -5},
                 "labelPadding": 16,
                 "labelExpr": "abs(datum.value * 5 - round(datum.value * 5)) < 0.001 ? (datum.value < -0.001 ? '-' : '') + format(abs(datum.value), '.1f') : ''"}},
  "color": {"field": "series", "type": "nominal",
            "scale": {"domain": ["REF-C1","REF-C2","REF-C1SD-24hr, smoothed","REF-C1SD-48hr, smoothed","ERA-I"], "range": ["#ff0000","#0000ff","#ff8000","#00ffff","#000000"]},
            "legend": {"title": null, "orient": "none", "legendX": 20.5, "legendY": 22}}
 }},
{"data": {"values": [{"letter": "a"}]},
 "mark": {"type": "text", "font": "Liberation Serif", "fontSize": 50, "align": "left", "baseline": "alphabetic", "dx": -71, "dy": 22, "color": "#000000"},
 "encoding": {
  "x": {"datum": -90, "type": "quantitative", "scale": {"domain": [-90, 90], "nice": false, "zero": false},
        "axis": {"orient": "top", "title": null, "labels": false, "values": [-80,-70,-60,-50,-40,-30,-20,-10,0,10,20,30,40,50,60,70,80],
                 "tickSize": {"condition": {"test": "datum.value % 50 == 0", "value": -10}, "value": -5}}},
  "y": {"datum": 0.763, "type": "quantitative", "scale": {"domain": [-0.589, 0.763], "nice": false, "zero": false},
        "axis": {"orient": "right", "title": null, "labels": false, "values": [-0.55,-0.5,-0.45,-0.4,-0.35,-0.3,-0.25,-0.2,-0.15,-0.1,-0.05,0,0.05,0.1,0.15,0.2,0.25,0.3,0.35,0.4,0.45,0.5,0.55,0.6,0.65,0.7,0.75],
                 "tickSize": {"condition": {"test": "abs(datum.value * 5 - round(datum.value * 5)) < 0.001", "value": -10}, "value": -5}}},
  "text": {"field": "letter"}
 }}
]
},
{
"width": 597, "height": 422,
"title": {"text": "Mass Upwelling (70hPa)"},
"resolve": {"axis": {"x": "independent", "y": "independent"}},
"layer": [
{"data": {"name": "b"},
 "mark": {"type": "line", "strokeWidth": 2, "clip": true},
 "encoding": {
  "x": {"field": "year", "type": "quantitative", "scale": {"domain": [1980, 2010], "nice": false, "zero": false},
        "axis": {"orient": "bottom", "title": "Year", "titlePadding": -4, "values": [1980,1981,1982,1983,1984,1985,1986,1987,1988,1989,1990,1991,1992,1993,1994,1995,1996,1997,1998,1999,2000,2001,2002,2003,2004,2005,2006,2007,2008,2009,2010],
                 "tickSize": {"condition": {"test": "datum.value % 5 == 0", "value": -10}, "value": -5},
                 "labelPadding": 19,
                 "labelExpr": "datum.value % 5 == 0 ? format(datum.value, 'd') : ''"}},
  "y": {"field": "value", "type": "quantitative", "scale": {"domain": [4.35, 7.26], "nice": false, "zero": false},
        "axis": {"orient": "left", "title": "Mass Flux (10⁹kg s⁻¹)", "titlePadding": 12, "values": [4.4,4.5,4.6,4.7,4.8,4.9,5.0,5.1,5.2,5.3,5.4,5.5,5.6,5.7,5.8,5.9,6.0,6.1,6.2,6.3,6.4,6.5,6.6,6.7,6.8,6.9,7.0,7.1,7.2],
                 "tickSize": {"condition": {"test": "abs(datum.value * 2 - round(datum.value * 2)) < 0.001", "value": -10}, "value": -5},
                 "labelPadding": 16,
                 "labelExpr": "abs(datum.value * 2 - round(datum.value * 2)) < 0.001 ? format(datum.value, '.1f') : ''"}},
  "color": {"field": "series", "type": "nominal",
            "scale": {"domain": ["REF-C1","REF-C2","REF-C1SD-24hr, smoothed","REF-C1SD-48hr, smoothed","ERA-I"], "range": ["#ff0000","#0000ff","#ff8000","#00ffff","#000000"]},
            "legend": {"title": null, "orient": "none", "legendX": 20.5, "legendY": 22}}
 }},
{"data": {"values": [{"letter": "b"}]},
 "mark": {"type": "text", "font": "Liberation Serif", "fontSize": 50, "align": "left", "baseline": "alphabetic", "dx": -74, "dy": 22, "color": "#000000"},
 "encoding": {
  "x": {"datum": 1980, "type": "quantitative", "scale": {"domain": [1980, 2010], "nice": false, "zero": false},
        "axis": {"orient": "top", "title": null, "labels": false, "values": [1980,1981,1982,1983,1984,1985,1986,1987,1988,1989,1990,1991,1992,1993,1994,1995,1996,1997,1998,1999,2000,2001,2002,2003,2004,2005,2006,2007,2008,2009,2010],
                 "tickSize": {"condition": {"test": "datum.value % 5 == 0", "value": -10}, "value": -5}}},
  "y": {"datum": 7.26, "type": "quantitative", "scale": {"domain": [4.35, 7.26], "nice": false, "zero": false},
        "axis": {"orient": "right", "title": null, "labels": false, "values": [4.4,4.5,4.6,4.7,4.8,4.9,5.0,5.1,5.2,5.3,5.4,5.5,5.6,5.7,5.8,5.9,6.0,6.1,6.2,6.3,6.4,6.5,6.6,6.7,6.8,6.9,7.0,7.1,7.2],
                 "tickSize": {"condition": {"test": "abs(datum.value * 2 - round(datum.value * 2)) < 0.001", "value": -10}, "value": -5}}},
  "text": {"field": "letter"}
 }}
]
},
{
"width": 597, "height": 422,
"title": {"text": "Mass Upwelling (70hPa), DJF"},
"resolve": {"axis": {"x": "independent", "y": "independent"}},
"layer": [
{"data": {"name": "c"},
 "mark": {"type": "line", "strokeWidth": 2, "clip": true},
 "encoding": {
  "x": {"field": "year", "type": "quantitative", "scale": {"domain": [1980, 2010], "nice": false, "zero": false},
        "axis": {"orient": "bottom", "title": "Year", "titlePadding": -4, "values": [1980,1981,1982,1983,1984,1985,1986,1987,1988,1989,1990,1991,1992,1993,1994,1995,1996,1997,1998,1999,2000,2001,2002,2003,2004,2005,2006,2007,2008,2009,2010],
                 "tickSize": {"condition": {"test": "datum.value % 5 == 0", "value": -10}, "value": -5},
                 "labelPadding": 19,
                 "labelExpr": "datum.value % 5 == 0 ? format(datum.value, 'd') : ''"}},
  "y": {"field": "value", "type": "quantitative", "scale": {"domain": [4.71, 8.74], "nice": false, "zero": false},
        "axis": {"orient": "left", "title": "Mass Flux (10⁹kg s⁻¹)", "titlePadding": 12, "values": [4.8,4.9,5.0,5.1,5.2,5.3,5.4,5.5,5.6,5.7,5.8,5.9,6.0,6.1,6.2,6.3,6.4,6.5,6.6,6.7,6.8,6.9,7.0,7.1,7.2,7.3,7.4,7.5,7.6,7.7,7.8,7.9,8.0,8.1,8.2,8.3,8.4,8.5,8.6,8.7],
                 "tickSize": {"condition": {"test": "abs(datum.value - round(datum.value)) < 0.001", "value": -10}, "value": -5},
                 "labelPadding": 16,
                 "labelExpr": "abs(datum.value - round(datum.value)) < 0.001 ? format(round(datum.value), 'd') : ''"}},
  "color": {"field": "series", "type": "nominal",
            "scale": {"domain": ["REF-C1","REF-C2","REF-C1SD-24hr, smoothed","REF-C1SD-48hr, smoothed","ERA-I"], "range": ["#ff0000","#0000ff","#ff8000","#00ffff","#000000"]},
            "legend": {"title": null, "orient": "none", "legendX": 20.5, "legendY": 22}}
 }},
{"data": {"values": [{"letter": "c"}]},
 "mark": {"type": "text", "font": "Liberation Serif", "fontSize": 50, "align": "left", "baseline": "alphabetic", "dx": -64, "dy": 25, "color": "#000000"},
 "encoding": {
  "x": {"datum": 1980, "type": "quantitative", "scale": {"domain": [1980, 2010], "nice": false, "zero": false},
        "axis": {"orient": "top", "title": null, "labels": false, "values": [1980,1981,1982,1983,1984,1985,1986,1987,1988,1989,1990,1991,1992,1993,1994,1995,1996,1997,1998,1999,2000,2001,2002,2003,2004,2005,2006,2007,2008,2009,2010],
                 "tickSize": {"condition": {"test": "datum.value % 5 == 0", "value": -10}, "value": -5}}},
  "y": {"datum": 8.74, "type": "quantitative", "scale": {"domain": [4.71, 8.74], "nice": false, "zero": false},
        "axis": {"orient": "right", "title": null, "labels": false, "values": [4.8,4.9,5.0,5.1,5.2,5.3,5.4,5.5,5.6,5.7,5.8,5.9,6.0,6.1,6.2,6.3,6.4,6.5,6.6,6.7,6.8,6.9,7.0,7.1,7.2,7.3,7.4,7.5,7.6,7.7,7.8,7.9,8.0,8.1,8.2,8.3,8.4,8.5,8.6,8.7],
                 "tickSize": {"condition": {"test": "abs(datum.value - round(datum.value)) < 0.001", "value": -10}, "value": -5}}},
  "text": {"field": "letter"}
 }}
]
},
{
"width": 597, "height": 422,
"title": {"text": "Mass Upwelling (70hPa), JJA"},
"resolve": {"axis": {"x": "independent", "y": "independent"}},
"layer": [
{"data": {"name": "d"},
 "mark": {"type": "line", "strokeWidth": 2, "clip": true},
 "encoding": {
  "x": {"field": "year", "type": "quantitative", "scale": {"domain": [1980, 2010], "nice": false, "zero": false},
        "axis": {"orient": "bottom", "title": "Year", "titlePadding": -4, "values": [1980,1981,1982,1983,1984,1985,1986,1987,1988,1989,1990,1991,1992,1993,1994,1995,1996,1997,1998,1999,2000,2001,2002,2003,2004,2005,2006,2007,2008,2009,2010],
                 "tickSize": {"condition": {"test": "datum.value % 5 == 0", "value": -10}, "value": -5},
                 "labelPadding": 19,
                 "labelExpr": "datum.value % 5 == 0 ? format(datum.value, 'd') : ''"}},
  "y": {"field": "value", "type": "quantitative", "scale": {"domain": [3.66, 6.4], "nice": false, "zero": false},
        "axis": {"orient": "left", "title": "Mass Flux (10⁹kg s⁻¹)", "titlePadding": 12, "values": [3.7,3.8,3.9,4.0,4.1,4.2,4.3,4.4,4.5,4.6,4.7,4.8,4.9,5.0,5.1,5.2,5.3,5.4,5.5,5.6,5.7,5.8,5.9,6.0,6.1,6.2,6.3],
                 "tickSize": {"condition": {"test": "abs(datum.value * 2 - round(datum.value * 2)) < 0.001", "value": -10}, "value": -5},
                 "labelPadding": 16,
                 "labelExpr": "abs(datum.value * 2 - round(datum.value * 2)) < 0.001 ? format(datum.value, '.1f') : ''"}},
  "color": {"field": "series", "type": "nominal",
            "scale": {"domain": ["REF-C1","REF-C2","REF-C1SD-24hr, smoothed","REF-C1SD-48hr, smoothed","ERA-I"], "range": ["#ff0000","#0000ff","#ff8000","#00ffff","#000000"]},
            "legend": {"title": null, "orient": "none", "legendX": 20.5, "legendY": 22}}
 }},
{"data": {"values": [{"letter": "d"}]},
 "mark": {"type": "text", "font": "Liberation Serif", "fontSize": 50, "align": "left", "baseline": "alphabetic", "dx": -69, "dy": 25, "color": "#000000"},
 "encoding": {
  "x": {"datum": 1980, "type": "quantitative", "scale": {"domain": [1980, 2010], "nice": false, "zero": false},
        "axis": {"orient": "top", "title": null, "labels": false, "values": [1980,1981,1982,1983,1984,1985,1986,1987,1988,1989,1990,1991,1992,1993,1994,1995,1996,1997,1998,1999,2000,2001,2002,2003,2004,2005,2006,2007,2008,2009,2010],
                 "tickSize": {"condition": {"test": "datum.value % 5 == 0", "value": -10}, "value": -5}}},
  "y": {"datum": 6.4, "type": "quantitative", "scale": {"domain": [3.66, 6.4], "nice": false, "zero": false},
        "axis": {"orient": "right", "title": null, "labels": false, "values": [3.7,3.8,3.9,4.0,4.1,4.2,4.3,4.4,4.5,4.6,4.7,4.8,4.9,5.0,5.1,5.2,5.3,5.4,5.5,5.6,5.7,5.8,5.9,6.0,6.1,6.2,6.3],
                 "tickSize": {"condition": {"test": "abs(datum.value * 2 - round(datum.value * 2)) < 0.001", "value": -10}, "value": -5}}},
  "text": {"field": "letter"}
 }}
]
}
],
"config": {
 "font": "Liberation Sans",
 "view": {"stroke": "#000000", "strokeWidth": 1.2},
 "axis": {"grid": false, "domainColor": "#000000", "domainWidth": 1.2, "tickColor": "#000000", "tickWidth": 1.2,
          "labelFont": "Liberation Sans", "labelFontSize": 21, "labelColor": "#000000",
          "titleFont": "Liberation Sans", "titleFontSize": 21, "titleFontWeight": "normal", "titleColor": "#000000",
          "labelOverlap": false, "labelFlush": false, "labelBound": false},
 "legend": {"labelFont": "Liberation Sans", "labelFontSize": 21, "labelColor": "#000000", "symbolType": "M-1.833,0L1.833,0", "symbolSize": 324,
            "symbolStrokeWidth": 2, "labelOffset": 11.5, "rowPadding": 0, "padding": 0, "labelLimit": 0},
 "title": {"font": "Liberation Sans", "fontSize": 26, "fontWeight": "normal", "color": "#000000", "anchor": "middle", "frame": "group", "offset": -11}
}
}
